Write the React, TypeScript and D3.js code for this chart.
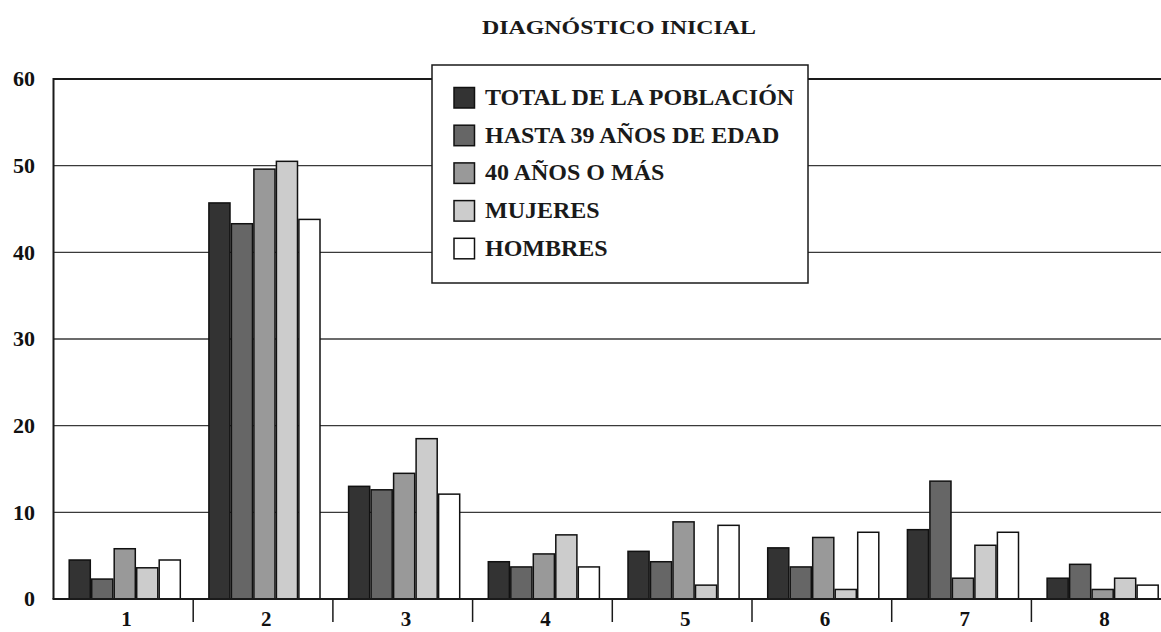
import React from "react";
import * as d3 from "d3";

const categories = ["1", "2", "3", "4", "5", "6", "7", "8"];
const seriesNames = [
  "TOTAL DE LA POBLACIÓN",
  "HASTA 39 AÑOS DE EDAD",
  "40 AÑOS O MÁS",
  "MUJERES",
  "HOMBRES",
];
const totalPoblacion = [4.5, 45.7, 13.0, 4.3, 5.5, 5.9, 8.0, 2.4];
const hasta39 = [2.3, 43.3, 12.6, 3.7, 4.3, 3.7, 13.6, 4.0];
const cuarentaOMas = [5.8, 49.6, 14.5, 5.2, 8.9, 7.1, 2.4, 1.1];
const mujeres = [3.6, 50.5, 18.5, 7.4, 1.6, 1.1, 6.2, 2.4];
const hombres = [4.5, 43.8, 12.1, 3.7, 8.5, 7.7, 7.7, 1.6];
const yTicks = [0, 10, 20, 30, 40, 50, 60];
const fills = ["#333333", "#666666", "#999999", "#cccccc", "#ffffff"];

const seriesValues = [totalPoblacion, hasta39, cuarentaOMas, mujeres, hombres];

const W = 1161;
const H = 632;
const plotLeft = 53.5;
const groupW = 139.7;
const plotRight = plotLeft + groupW * categories.length;
const yBase = 599;
const yTop = 79;
const font = "'Liberation Serif', 'Times New Roman', serif";

export default function App() {
  const x0 = d3.scaleBand<string>().domain(categories).range([plotLeft, plotRight]).padding(0);
  const x1 = d3
    .scaleBand<number>()
    .domain(d3.range(seriesNames.length))
    .range([15, 127.5])
    .padding(0);
  const y = d3.scaleLinear().domain([0, 60]).range([yBase, yTop]);

  const legendX = 432;
  const legendY = 65;
  const legendW = 376;
  const legendH = 218;
  const rowH = 37.7;

  return (
    <div style={{ position: "fixed", left: 0, top: 0 }}>
      <svg width={W} height={H} style={{ display: "block", background: "#fff" }}>
        <text
          x={619}
          y={33.5}
          textAnchor="middle"
          fontFamily={font}
          fontWeight="bold"
          fontSize={19}
          textLength={274}
          lengthAdjust="spacingAndGlyphs"
          fill="#1a1a1a"
        >
          DIAGNÓSTICO INICIAL
        </text>

        {/* gridlines */}
        {yTicks
          .filter((t) => t > 0 && t < 60)
          .map((t) => (
            <line
              key={t}
              x1={plotLeft}
              x2={plotRight}
              y1={y(t)}
              y2={y(t)}
              stroke="#3a3a3a"
              strokeWidth={1.3}
            />
          ))}
        <line x1={plotLeft} x2={plotRight} y1={y(60)} y2={y(60)} stroke="#1a1a1a" strokeWidth={2} />
        <line x1={plotLeft} x2={plotLeft} y1={y(60) - 1} y2={yBase} stroke="#1a1a1a" strokeWidth={2} />

        {/* y tick labels */}
        {yTicks.map((t) => (
          <text
            key={t}
            x={35}
            y={y(t)}
            dy="0.34em"
            textAnchor="end"
            fontFamily={font}
            fontWeight="bold"
            fontSize={22}
            fill="#111"
          >
            {t}
          </text>
        ))}

        {/* bars */}
        {categories.map((c, ci) => (
          <g key={c} transform={`translate(${x0(c)},0)`}>
            {seriesValues.map((vals, si) => (
              <rect
                key={si}
                x={x1(si)! + 0.7}
                width={x1.bandwidth() - 1.4}
                y={y(vals[ci])}
                height={yBase - y(vals[ci])}
                fill={fills[si]}
                stroke="#111"
                strokeWidth={1.5}
              />
            ))}
          </g>
        ))}

        {/* baseline and category separators */}
        <line x1={plotLeft - 1} x2={plotRight} y1={yBase} y2={yBase} stroke="#1a1a1a" strokeWidth={2} />
        {categories.slice(1).map((c) => (
          <line
            key={c}
            x1={x0(c)!}
            x2={x0(c)!}
            y1={yBase}
            y2={622}
            stroke="#1a1a1a"
            strokeWidth={1.5}
          />
        ))}
        {categories.map((c) => (
          <text
            key={c}
            x={x0(c)! + 73}
            y={626}
            textAnchor="middle"
            fontFamily={font}
            fontWeight="bold"
            fontSize={21}
            fill="#111"
          >
            {c}
          </text>
        ))}

        {/* legend */}
        <rect
          x={legendX}
          y={legendY}
          width={legendW}
          height={legendH}
          fill="#fff"
          stroke="#1a1a1a"
          strokeWidth={1.5}
        />
        {seriesNames.map((name, i) => (
          <g key={name} transform={`translate(${legendX + 22},${legendY + 22.5 + i * rowH})`}>
            <rect x={0} y={0} width={20.5} height={20.5} fill={fills[i]} stroke="#111" strokeWidth={1.5} />
            <text
              x={31}
              y={17.5}
              fontFamily={font}
              fontWeight="bold"
              fontSize={24}
              fill="#1a1a1a"
            >
              {name}
            </text>
          </g>
        ))}
      </svg>
    </div>
  );
}
